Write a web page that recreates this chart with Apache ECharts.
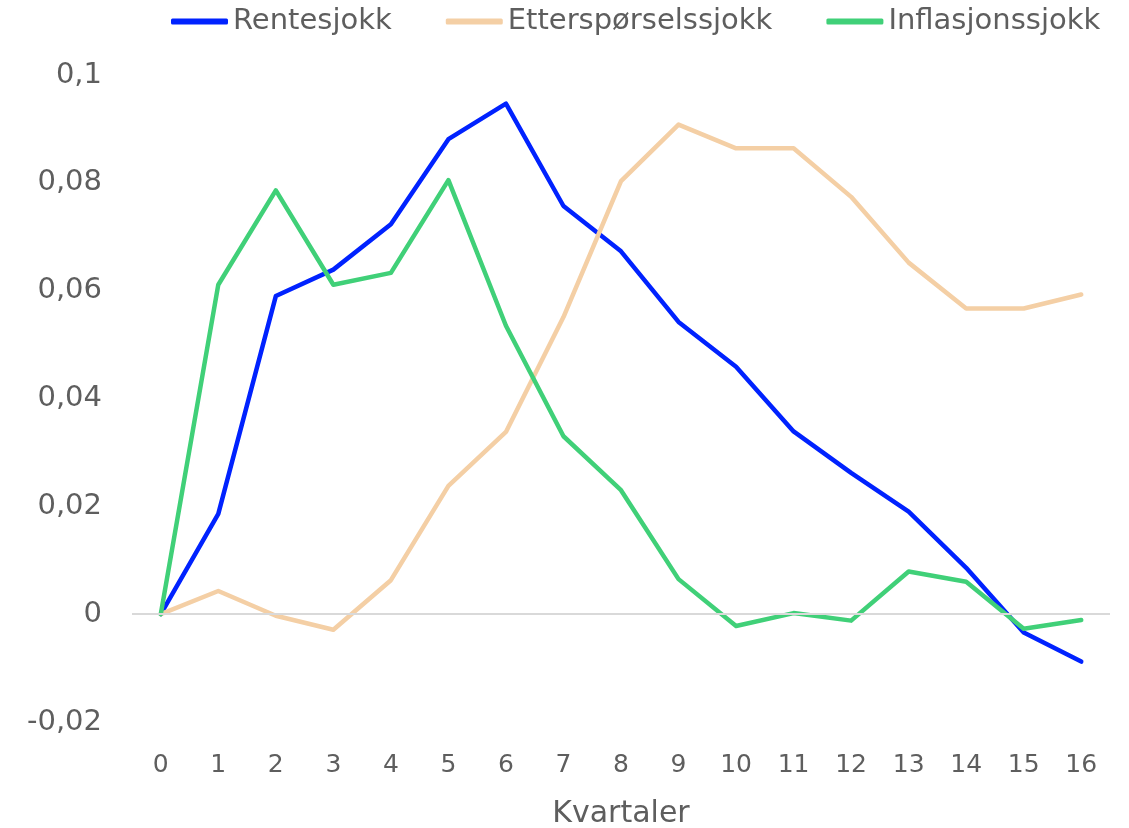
<!DOCTYPE html>
<html>
<head>
<meta charset="utf-8">
<script src="https://cdn.jsdelivr.net/npm/echarts@6/dist/echarts.min.js"></script>
<style>
html,body{margin:0;padding:0;background:#fff;}
#chart{width:1129px;height:828px;}
</style>
</head>
<body>
<div id="chart"></div>
<script>
const categories = ['0','1','2','3','4','5','6','7','8','9','10','11','12','13','14','15','16'];
const rentesjokk = [0, 0.0186, 0.059, 0.0639, 0.0723, 0.0881, 0.0947, 0.0757, 0.0673, 0.0542, 0.0459, 0.0339, 0.0262, 0.0190, 0.0086, -0.0034, -0.0088];
const ettersporsel = [0, 0.0043, -0.0003, -0.0029, 0.0063, 0.0238, 0.0338, 0.0551, 0.0803, 0.0908, 0.0864, 0.0864, 0.0774, 0.0652, 0.0567, 0.0567, 0.0593];
const inflasjon = [0, 0.0611, 0.0786, 0.0611, 0.0633, 0.0805, 0.0535, 0.0330, 0.0230, 0.0065, -0.0022, 0.0002, -0.0012, 0.0079, 0.0060, -0.0027, -0.0011];
const seriesNames = ['Rentesjokk', 'Etterspørselssjokk', 'Inflasjonssjokk'];
const colors = ['#0022FF', '#F4CFA5', '#40D078'];

const textColor = '#5E5E5E';
const fontFamily = '"DejaVu Sans", sans-serif';

const chart = echarts.init(document.getElementById('chart'));
function mkSeries(name, data, color, extra) {
  return Object.assign({
    name: name,
    type: 'line',
    data: data,
    symbol: 'none',
    lineStyle: { color: color, width: 4.5, cap: 'round', join: 'round' },
    itemStyle: { color: color },
    animation: false
  }, extra || {});
}
chart.setOption({
  animation: false,
  textStyle: { fontFamily: fontFamily },
  grid: { left: 132, right: 19, top: 75, bottom: 106, containLabel: false, outerBoundsMode: 'none' },
  legend: {
    top: 7,
    left: 171,
    padding: 0,
    itemWidth: 57,
    itemHeight: 6,
    itemGap: 54,
    itemTextGap: 3,
    icon: 'roundRect',
    textStyle: { color: textColor, fontSize: 29, fontFamily: fontFamily },
    data: seriesNames
  },
  xAxis: {
    type: 'category',
    data: categories,
    boundaryGap: true,
    axisLine: { show: false },
    axisTick: { show: false },
    axisLabel: { color: textColor, fontSize: 25, margin: 31 },
    name: 'Kvartaler',
    nameLocation: 'middle',
    nameGap: 77,
    nameTextStyle: { color: textColor, fontSize: 30 },
    splitLine: { show: false }
  },
  yAxis: {
    type: 'value',
    min: -0.02,
    max: 0.1,
    interval: 0.02,
    axisLine: { show: false },
    axisTick: { show: false },
    splitLine: { show: false },
    axisLabel: {
      color: textColor, fontSize: 29, margin: 30,
      formatter: function (v) { return String(Number(v.toFixed(4))).replace('.', ','); }
    }
  },
  series: [
    mkSeries(seriesNames[0], rentesjokk, colors[0], {
      markLine: {
        silent: true, symbol: 'none', animation: false,
        label: { show: false },
        lineStyle: { color: '#D9D9D9', width: 2, type: 'solid' },
        data: [{ yAxis: 0 }]
      },
      z: 2
    }),
    mkSeries(seriesNames[1], ettersporsel, colors[1], { z: 3 }),
    mkSeries(seriesNames[2], inflasjon, colors[2], { z: 4 })
  ]
});
</script>
</body>
</html>
